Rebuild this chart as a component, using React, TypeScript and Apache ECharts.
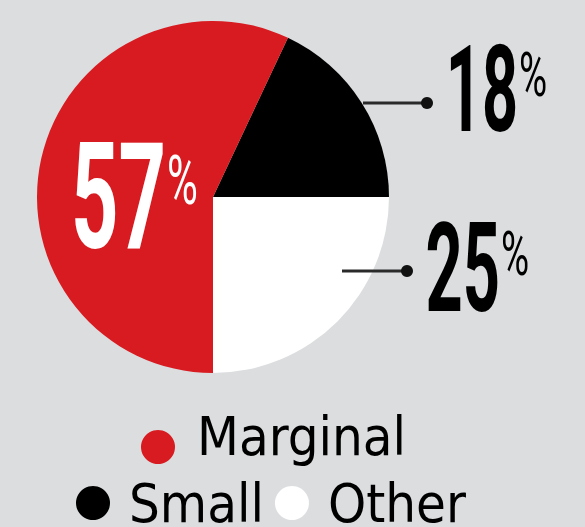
import React, { useEffect, useRef } from "react";
import * as echarts from "echarts";

const categories = ["Marginal", "Small", "Other"];
const shares = [57, 18, 25];
const sliceColors = ["#d81b20", "#000000", "#ffffff"];
const pieOrder = [1, 2, 0]; // clockwise from the Small/Marginal boundary

const BG = "#dbdddf";
const NUM_FONT = "Roboto, 'DejaVu Sans', sans-serif";
const LEG_FONT = "'DejaVu Sans Condensed', 'Liberation Sans', sans-serif";

export default function App() {
  const ref = useRef<HTMLDivElement>(null);

  useEffect(() => {
    document.body.style.margin = "0";
    if (!ref.current) return;
    const chart = echarts.init(ref.current, null, { renderer: "svg" });
    const total = shares.reduce((a, b) => a + b, 0);
    const pct = (i: number) => String(Math.round((shares[i] / total) * 100));
    const startAngle = (360 * shares[pieOrder[0]]) / total;

    const bigLabel = (
      i: number,
      xSplit: number,
      yNum: number,
      numSize: number,
      numScale: number,
      yPct: number,
      pctSize: number,
      color: string
    ) => [
      {
        type: "text",
        x: xSplit,
        y: yNum,
        z: 100,
        scaleX: numScale,
        silent: true,
        style: {
          text: pct(i),
          x: 0,
          y: 0,
          align: "right",
          textAlign: "right",
          verticalAlign: "middle",
          textVerticalAlign: "middle",
          fontSize: numSize,
          fontWeight: "bold",
          fontFamily: NUM_FONT,
          fill: color,
        },
      },
      {
        type: "text",
        x: xSplit + 1,
        y: yPct,
        z: 100,
        scaleX: 0.62,
        silent: true,
        style: {
          text: "%",
          x: 0,
          y: 0,
          align: "left",
          textAlign: "left",
          verticalAlign: "middle",
          textVerticalAlign: "middle",
          fontSize: pctSize,
          fontWeight: "normal",
          fontFamily: NUM_FONT,
          fill: color,
        },
      },
    ];

    const leader = (x1: number, x2: number, y: number) => [
      {
        type: "line",
        z: 100,
        silent: true,
        shape: { x1, y1: y, x2, y2: y },
        style: { stroke: "#2a2a2a", lineWidth: 3 },
      },
      {
        type: "circle",
        z: 100,
        silent: true,
        shape: { cx: x2, cy: y, r: 6 },
        style: { fill: "#111111" },
      },
    ];

    const legendText = {
      fontFamily: LEG_FONT,
      fontSize: 54,
      color: "#000",
      lineHeight: 56,
    };

    chart.setOption({
      animation: false,
      backgroundColor: BG,
      legend: [
        {
          data: [categories[0]],
          left: 141,
          top: 409,
          padding: 0,
          icon: "circle",
          itemWidth: 34,
          itemHeight: 34,
          selectedMode: false,
          formatter: (name: string) => `{t|${name}}{s| }`,
          textStyle: {
            ...legendText,
            rich: {
              t: { ...legendText, verticalAlign: "top", padding: [0, 0, 0, 17] },
              s: { fontSize: 8, lineHeight: 76, verticalAlign: "top" },
            },
          },
        },
        {
          data: [categories[1], categories[2]],
          left: 76,
          top: 475,
          padding: 0,
          icon: "circle",
          itemWidth: 34,
          itemHeight: 34,
          itemGap: 11,
          selectedMode: false,
          textStyle: { ...legendText, padding: [0, 0, 0, 14] },
        },
      ],
      series: [
        {
          type: "pie",
          center: [213, 197],
          radius: 176,
          startAngle,
          clockwise: true,
          silent: true,
          label: { show: false },
          labelLine: { show: false },
          emphasis: { disabled: true },
          data: pieOrder.map((i) => ({
            name: categories[i],
            value: shares[i],
            itemStyle: { color: sliceColors[i] },
          })),
        },
      ],
      graphic: [
        ...leader(363, 427, 103),
        ...leader(342, 407, 271),
        ...bigLabel(0, 166, 197, 148, 0.56, 181, 68, "#ffffff"),
        ...bigLabel(1, 518, 90, 121, 0.52, 75, 62, "#000000"),
        ...bigLabel(2, 500, 268, 125, 0.52, 254, 62, "#000000"),
      ],
    });

    return () => chart.dispose();
  }, []);

  return <div ref={ref} style={{ width: 585, height: 527, background: BG }} />;
}
